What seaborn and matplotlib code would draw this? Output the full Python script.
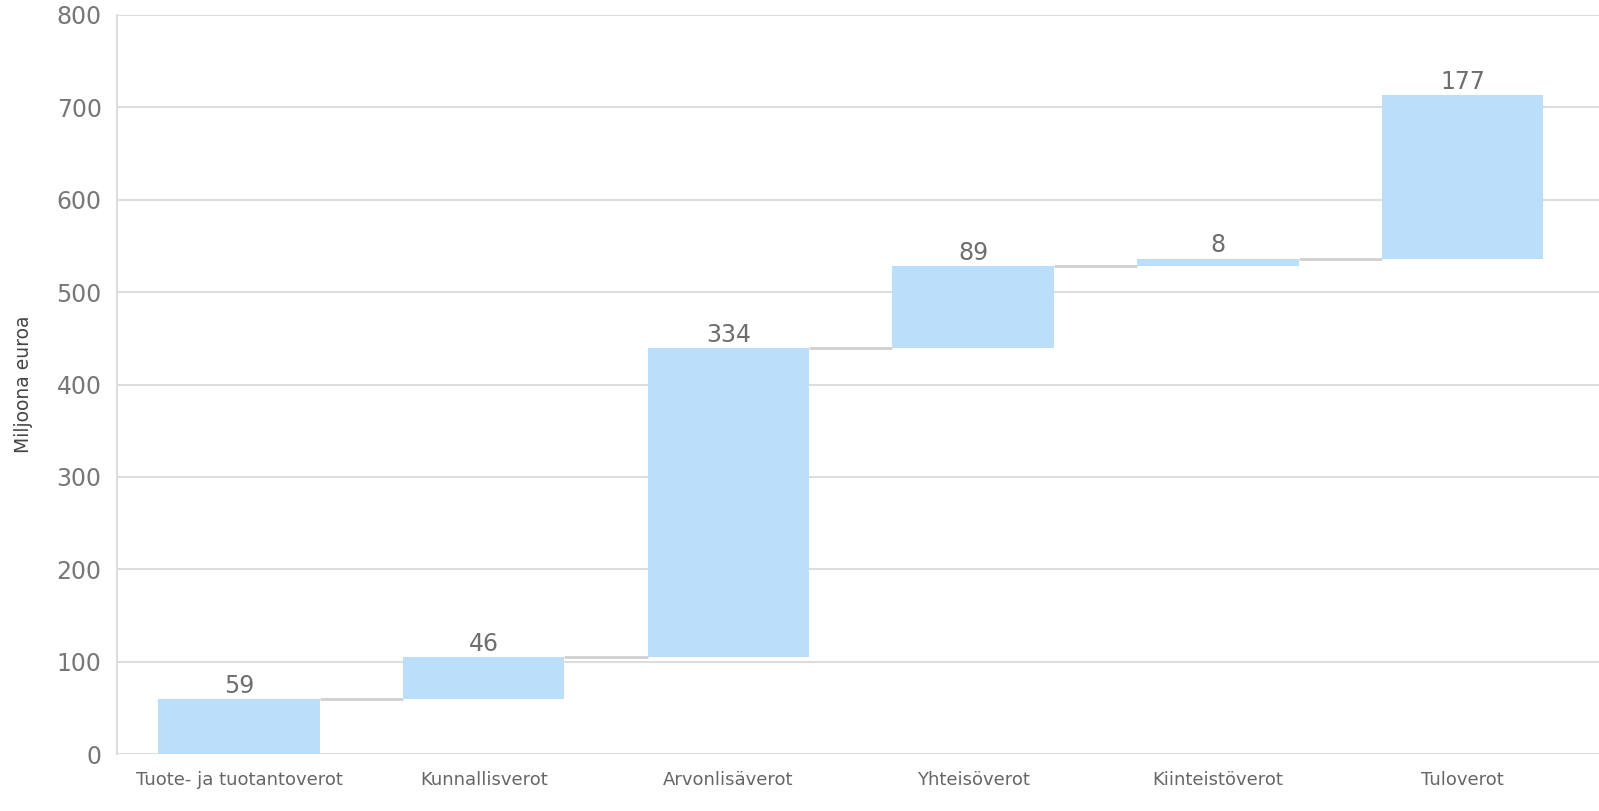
import matplotlib
matplotlib.use("Agg")
import matplotlib.pyplot as plt
import seaborn as sns
import numpy as np
import pandas as pd

# data
categories = ["Tuote- ja tuotantoverot", "Kunnallisverot", "Arvonlisäverot",
              "Yhteisöverot", "Kiinteistöverot", "Tuloverot"]
values = [59, 46, 334, 89, 8, 177]
y_ticks = [0, 100, 200, 300, 400, 500, 600, 700, 800]

BAR_COLOR = "#bbdefb"
GRID_COLOR = "#dddddd"
TEXT_GRAY = "#777777"

ends = np.cumsum(values)
starts = ends - np.array(values)
df = pd.DataFrame({"category": categories, "value": values, "start": starts, "end": ends})

sns.set_style("white")
plt.rcParams["font.family"] = ["DejaVu Sans"]

fig = plt.figure(figsize=(15.99, 8.11), dpi=100)
ax = fig.add_axes([117 / 1599, 1 - 754 / 811, (1599 - 117) / 1599, (754 - 15) / 811])

width = 0.66
sns.barplot(data=df, x="category", y="value", color=BAR_COLOR, saturation=1,
            width=width, ax=ax, zorder=3)
# move each bar to its waterfall position
for patch, s, v in zip(ax.patches, df["start"], df["value"]):
    patch.set_y(s)
    patch.set_height(v)
    patch.set_linewidth(0)

# connectors between bars
for i in range(len(df) - 1):
    ax.hlines(df["end"][i], i + width / 2, i + 1 - width / 2,
              color="#d0d0d0", linewidth=2, zorder=2)

# value labels
for i, row in df.iterrows():
    ax.annotate(str(row["value"]), (i, row["end"]), xytext=(0, 1),
                textcoords="offset points", ha="center", va="bottom",
                fontsize=17, color="#6e6e6e", zorder=4)

ax.set_ylim(0, 800)
ax.set_xlim(-0.4986, 5.558)
ax.set_yticks(y_ticks)
ax.yaxis.grid(True, color=GRID_COLOR, linewidth=1.5, zorder=0)
ax.set_axisbelow(True)

ax.tick_params(axis="y", labelsize=17, labelcolor=TEXT_GRAY, length=0, pad=11)
ax.tick_params(axis="x", labelsize=13, labelcolor="#666666", length=0, pad=12)
ax.set_xlabel("")
ax.set_ylabel("Miljoona euroa", fontsize=13.5, color="#444444")
ax.yaxis.set_label_coords(-0.057, 0.5)

for side in ["top", "right", "bottom"]:
    ax.spines[side].set_visible(False)
ax.spines["left"].set_color(GRID_COLOR)
ax.spines["left"].set_linewidth(1.5)

fig.savefig("out.png", dpi=100)
